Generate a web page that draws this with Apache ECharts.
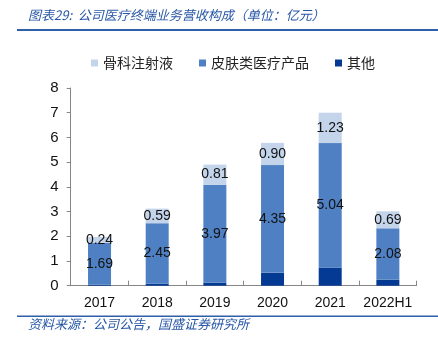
<!DOCTYPE html>
<html><head><meta charset="utf-8">
<script src="https://cdn.jsdelivr.net/npm/echarts@6/dist/echarts.min.js"></script>
<style>html,body{margin:0;padding:0;background:#fff}#c{width:438px;height:340px}</style>
</head><body><div id="c"></div>
<script>
const categories = ['2017','2018','2019','2020','2021','2022H1'];
const seriesNames = ['骨科注射液','皮肤类医疗产品','其他'];
const orthoValues = [0.24, 0.59, 0.81, 0.90, 1.23, 0.69];
const skinValues = [1.69, 2.45, 3.97, 4.35, 5.04, 2.08];
const otherValues = [0.04, 0.08, 0.12, 0.53, 0.73, 0.24];
const yTicks = [0,1,2,3,4,5,6,7,8];
const titleText = '图表29:  公司医疗终端业务营收构成（单位：亿元）';
const sourceText = '资料来源：公司公告，国盛证券研究所';

const colors = { ortho:'#C3D4EB', skin:'#4E80C3', other:'#043A94' };
const numFont = 'Liberation Sans';
const lbl = {show:true, position:'inside', color:'#111', fontSize:14, fontFamily:numFont,
  formatter: p => Number(p.value).toFixed(2)};

const chart = echarts.init(document.getElementById('c'), null, {renderer:'canvas'});
chart.setOption({
  animation:false,
  color:[colors.ortho, colors.skin, colors.other],
  grid:{left:70.7, right:21.3, top:88, bottom:54.3},
  legend:{
    data:seriesNames, left:86, top:51, itemWidth:7, itemHeight:7, itemGap:26, icon:'rect',
    textStyle:{fontFamily:'Noto Sans CJK SC', fontSize:14, color:'#222', padding:[0,0,0,0]}
  },
  xAxis:{type:'category', data:categories,
    axisLine:{lineStyle:{color:'#868686', width:1}},
    axisTick:{show:true, inside:true, length:5, alignWithLabel:false, interval:0, lineStyle:{color:'#868686'}},
    axisLabel:{color:'#111', fontSize:14, fontFamily:numFont, margin:10, interval:0}
  },
  yAxis:{type:'value', min:yTicks[0], max:yTicks[yTicks.length-1], interval:1,
    axisLine:{show:true, lineStyle:{color:'#868686', width:1}},
    axisTick:{show:true, length:4, lineStyle:{color:'#868686'}},
    splitLine:{show:false},
    axisLabel:{color:'#111', fontSize:15, fontFamily:numFont, margin:12}
  },
  series:[
    {name:seriesNames[2], type:'bar', stack:'a', barWidth:23, data:otherValues, itemStyle:{color:colors.other}, z:2},
    {name:seriesNames[1], type:'bar', stack:'a', barWidth:23, data:skinValues, itemStyle:{color:colors.skin}, label:lbl, z:2},
    {name:seriesNames[0], type:'bar', stack:'a', barWidth:23, data:orthoValues, itemStyle:{color:colors.ortho}, label:lbl, z:2}
  ],
  graphic:[
    {type:'text', left:28, top:9, style:{text:titleText, fill:'#2757A6', fontSize:13, fontStyle:'italic', fontFamily:'Noto Sans CJK SC'}},
    {type:'rect', left:17, top:29, shape:{width:421, height:2}, style:{fill:'#2E5FA8'}},
    {type:'rect', left:17, top:315.5, shape:{width:421, height:1.5}, style:{fill:'#2E5FA8'}},
    {type:'text', left:28, top:318, style:{text:sourceText, fill:'#2757A6', fontSize:13, fontStyle:'italic', fontFamily:'Noto Sans CJK SC'}}
  ]
});
</script></body></html>
